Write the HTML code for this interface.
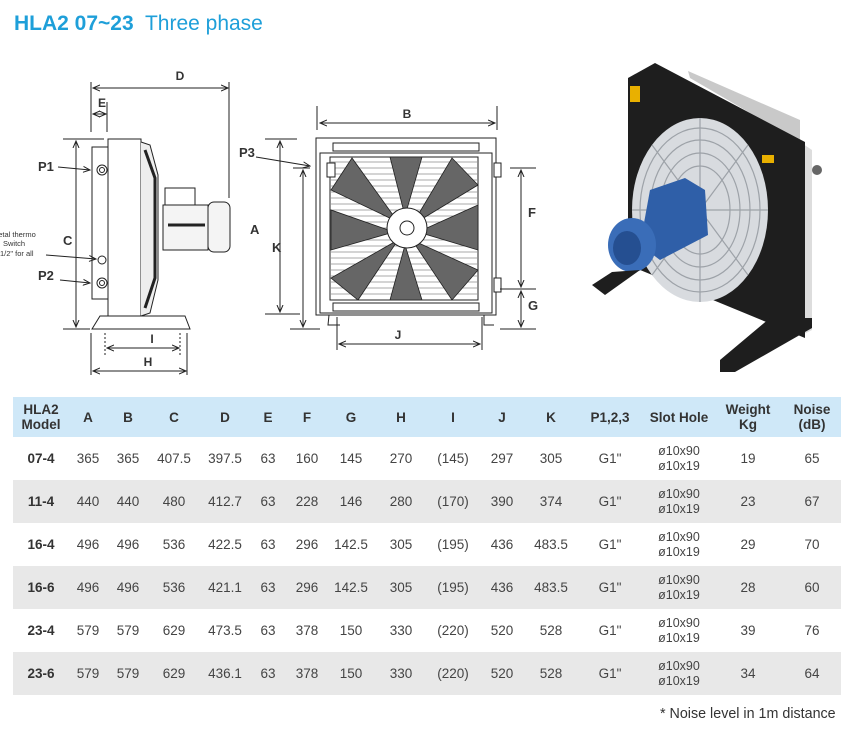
<!DOCTYPE html>
<html><head><meta charset="utf-8"><style>
body{margin:0;width:851px;height:732px;background:#fff;font-family:"Liberation Sans",sans-serif;position:relative;overflow:hidden;color:#333}
.t{position:absolute;left:14px;top:12px;font-size:21px;color:#1e9fd9;white-space:nowrap}
.t b{font-weight:bold}
table{position:absolute;left:13px;top:397px;width:828px;border-collapse:collapse;font-size:13.5px;color:#444}
td{text-align:center;padding:0;height:43px;line-height:15px}
tr.h td{background:#cfe8f8;font-weight:bold;height:40px;color:#333;font-size:13.5px}
tr.g td{background:#e8e8e8}
td.m{font-weight:bold;color:#333}
.sl{font-size:12.5px}
.note{position:absolute;left:660px;top:706px;font-size:14.3px;color:#333}
</style></head><body>
<div class="t"><b>HLA2 07~23</b>&nbsp; Three phase</div>
<svg width="851" height="395" style="position:absolute;left:0;top:0" font-family="Liberation Sans" font-weight="bold" font-size="12" fill="#333">
<defs><marker id="a" markerWidth="8" markerHeight="8" refX="7" refY="4" orient="auto-start-reverse"><path d="M0,1 L7,4 L0,7" fill="none" stroke="#222" stroke-width="1"/></marker></defs>
<g stroke="#222" fill="none" stroke-width="1">
<line x1="91" y1="82" x2="91" y2="132"/><line x1="107" y1="102" x2="107" y2="132"/><line x1="229" y1="82" x2="229" y2="198"/>
<line x1="93" y1="88" x2="228" y2="88" marker-start="url(#a)" marker-end="url(#a)"/>
<line x1="93" y1="114" x2="106" y2="114" marker-start="url(#a)" marker-end="url(#a)"/>
<line x1="63" y1="139" x2="104" y2="139"/><line x1="63" y1="329" x2="90" y2="329"/>
<line x1="76" y1="141" x2="76" y2="327" marker-start="url(#a)" marker-end="url(#a)"/>
<rect x="92" y="147" width="16" height="152" fill="#fff"/>
<rect x="108" y="139" width="33" height="177" fill="#fff"/>
<circle cx="102" cy="170" r="5"/><circle cx="102" cy="170" r="2.5"/>
<circle cx="102" cy="260" r="4"/>
<circle cx="102" cy="283" r="5"/><circle cx="102" cy="283" r="2.5"/>
<path d="M141,142 L150,145 L158,175 L158,280 L150,313 L141,316" fill="#eee"/>
<path d="M145,150 L155,178 L155,278 L145,308" stroke-width="3"/>
<rect x="163" y="205" width="45" height="45" fill="#f4f4f4"/>
<rect x="165" y="188" width="30" height="17"/>
<rect x="208" y="202" width="22" height="50" rx="6" fill="#f4f4f4"/>
<line x1="168" y1="225" x2="205" y2="225" stroke-width="3"/>
<path d="M92,329 L100,316 L185,316 L190,329 Z" fill="#fff"/>
<line x1="91" y1="333" x2="91" y2="375"/><line x1="187" y1="333" x2="187" y2="375"/>
<line x1="105" y1="333" x2="105" y2="355" stroke-dasharray="2,2"/><line x1="180" y1="333" x2="180" y2="355" stroke-dasharray="2,2"/>
<line x1="107" y1="348" x2="179" y2="348" marker-start="url(#a)" marker-end="url(#a)"/>
<line x1="93" y1="371" x2="186" y2="371" marker-start="url(#a)" marker-end="url(#a)"/>
<line x1="58" y1="167" x2="90" y2="170" marker-end="url(#a)"/>
<line x1="46" y1="255" x2="96" y2="259" marker-end="url(#a)"/>
<line x1="60" y1="280" x2="90" y2="283" marker-end="url(#a)"/>
<line x1="317" y1="106" x2="317" y2="130"/><line x1="497" y1="106" x2="497" y2="130"/>
<line x1="320" y1="123" x2="495" y2="123" marker-start="url(#a)" marker-end="url(#a)"/>
<line x1="265" y1="139" x2="297" y2="139"/><line x1="265" y1="314" x2="300" y2="314"/>
<line x1="280" y1="141" x2="280" y2="312" marker-start="url(#a)" marker-end="url(#a)"/>
<line x1="293" y1="168" x2="310" y2="168"/><line x1="290" y1="329" x2="320" y2="329"/>
<line x1="303" y1="170" x2="303" y2="327" marker-start="url(#a)" marker-end="url(#a)"/>
<rect x="316" y="138" width="180" height="177" fill="#fff"/>
<rect x="320" y="153" width="172" height="160"/>
<rect x="333" y="143" width="146" height="8"/><rect x="333" y="303" width="146" height="8"/>
<rect x="330" y="157" width="148" height="143"/>
<g stroke-width="0.6" stroke="#555">
<line x1="331" y1="162" x2="477" y2="162"/><line x1="331" y1="168" x2="477" y2="168"/><line x1="331" y1="174" x2="477" y2="174"/><line x1="331" y1="180" x2="477" y2="180"/><line x1="331" y1="186" x2="477" y2="186"/><line x1="331" y1="192" x2="477" y2="192"/><line x1="331" y1="198" x2="477" y2="198"/><line x1="331" y1="204" x2="477" y2="204"/><line x1="331" y1="210" x2="477" y2="210"/><line x1="331" y1="216" x2="477" y2="216"/><line x1="331" y1="222" x2="477" y2="222"/><line x1="331" y1="228" x2="477" y2="228"/><line x1="331" y1="234" x2="477" y2="234"/><line x1="331" y1="240" x2="477" y2="240"/><line x1="331" y1="246" x2="477" y2="246"/><line x1="331" y1="252" x2="477" y2="252"/><line x1="331" y1="258" x2="477" y2="258"/><line x1="331" y1="264" x2="477" y2="264"/><line x1="331" y1="270" x2="477" y2="270"/><line x1="331" y1="276" x2="477" y2="276"/><line x1="331" y1="282" x2="477" y2="282"/><line x1="331" y1="288" x2="477" y2="288"/><line x1="331" y1="294" x2="477" y2="294"/></g>
<g fill="#666" stroke="#222" stroke-width="0.8">
<path d="M405,216 L390,157 L422,157 Z"/><path d="M412,225 L452,158 L478,185 Z"/><path d="M418,232 L478,205 L478,250 Z"/><path d="M412,240 L478,270 L452,300 Z"/><path d="M405,245 L422,300 L390,300 Z"/><path d="M398,240 L358,300 L331,278 Z"/><path d="M394,232 L331,250 L331,210 Z"/><path d="M398,222 L331,190 L352,158 Z"/></g>
<circle cx="407" cy="228" r="20" fill="#fff"/><circle cx="407" cy="228" r="7"/>
<rect x="327" y="163" width="8" height="14" fill="#fff"/><rect x="494" y="163" width="7" height="14" fill="#fff"/><rect x="494" y="278" width="7" height="14" fill="#fff"/>
<path d="M329,315 L328,325 L340,325 M484,315 L484,325 L494,325"/>
<line x1="510" y1="168" x2="536" y2="168"/><line x1="500" y1="289" x2="536" y2="289"/><line x1="500" y1="329" x2="536" y2="329"/>
<line x1="521" y1="170" x2="521" y2="287" marker-start="url(#a)" marker-end="url(#a)"/>
<line x1="521" y1="291" x2="521" y2="327" marker-start="url(#a)" marker-end="url(#a)"/>
<line x1="337" y1="317" x2="337" y2="350"/><line x1="482" y1="317" x2="482" y2="350"/>
<line x1="339" y1="344" x2="480" y2="344" marker-start="url(#a)" marker-end="url(#a)"/>
<line x1="256" y1="157" x2="310" y2="166" marker-end="url(#a)"/>
</g>
<text x="180" y="80" text-anchor="middle">D</text><text x="98" y="107">E</text>
<text x="38" y="171" font-size="13">P1</text><text x="38" y="280" font-size="13">P2</text>
<text x="63" y="245" font-size="13">C</text>
<text x="-8" y="237" font-size="7.5" font-weight="normal">metal thermo</text><text x="3" y="246" font-size="7.5" font-weight="normal">Switch</text><text x="0" y="256" font-size="7.5" font-weight="normal">1/2" for all</text>
<text x="152" y="343" text-anchor="middle">I</text><text x="148" y="366" text-anchor="middle">H</text>
<text x="407" y="118" text-anchor="middle">B</text><text x="239" y="157" font-size="13">P3</text>
<text x="250" y="234" font-size="13">A</text><text x="272" y="252" font-size="13">K</text>
<text x="528" y="217" font-size="13">F</text><text x="528" y="310" font-size="13">G</text>
<text x="398" y="339" text-anchor="middle">J</text>
<!-- photo -->
<g stroke="none">
<path d="M800,142 L812,150 L812,330 L800,336 Z" fill="#ddd"/>
<path d="M688,71 L800,120 L800,142 L690,78 Z" fill="#c9c9c9"/>
<path d="M628,78 L655,63 L805,142 L805,338 L628,265 Z" fill="#1e1e1e"/>
<ellipse cx="700" cy="210" rx="68" ry="92" fill="#d8dbdf"/>
<g fill="none" stroke="#9da2a8" stroke-width="1.2">
<ellipse cx="700" cy="210" rx="60" ry="82"/><ellipse cx="700" cy="210" rx="50" ry="70"/><ellipse cx="700" cy="210" rx="40" ry="57"/><ellipse cx="700" cy="210" rx="30" ry="44"/>
<line x1="700" y1="118" x2="700" y2="302"/><line x1="632" y1="210" x2="768" y2="210"/><line x1="652" y1="145" x2="748" y2="275"/><line x1="748" y1="145" x2="652" y2="275"/></g>
<path d="M650,190 L685,178 L705,190 L708,235 L660,260 L640,245 Z" fill="#2f5fa8"/>
<ellipse cx="632" cy="245" rx="24" ry="27" fill="#3a6db8"/>
<ellipse cx="627" cy="248" rx="14" ry="17" fill="#254f91"/>
<path d="M592,285 L612,272 L640,270 L605,295 Z" fill="#1e1e1e"/>
<path d="M720,360 L770,318 L812,318 L812,328 L735,372 L720,372 Z" fill="#1e1e1e"/>
<rect x="630" y="86" width="10" height="16" fill="#e9b000"/>
<rect x="762" y="155" width="12" height="8" fill="#e9b000"/>
<circle cx="817" cy="170" r="5" fill="#666"/>
</g>
</svg>
<table>
<tr class="h"><td style="width:56px">HLA2<br>Model</td><td style="width:38px">A</td><td style="width:42px">B</td><td style="width:50px">C</td><td style="width:52px">D</td><td style="width:34px">E</td><td style="width:44px">F</td><td style="width:44px">G</td><td style="width:56px">H</td><td style="width:48px">I</td><td style="width:50px">J</td><td style="width:48px">K</td><td style="width:70px">P1,2,3</td><td style="width:68px">Slot Hole</td><td style="width:70px">Weight<br>Kg</td><td>Noise<br>(dB)</td></tr>
<tr><td class="m">07-4</td><td>365</td><td>365</td><td>407.5</td><td>397.5</td><td>63</td><td>160</td><td>145</td><td>270</td><td>(145)</td><td>297</td><td>305</td><td>G1"</td><td class="sl">ø10x90<br>ø10x19</td><td>19</td><td>65</td></tr>
<tr class="g"><td class="m">11-4</td><td>440</td><td>440</td><td>480</td><td>412.7</td><td>63</td><td>228</td><td>146</td><td>280</td><td>(170)</td><td>390</td><td>374</td><td>G1"</td><td class="sl">ø10x90<br>ø10x19</td><td>23</td><td>67</td></tr>
<tr><td class="m">16-4</td><td>496</td><td>496</td><td>536</td><td>422.5</td><td>63</td><td>296</td><td>142.5</td><td>305</td><td>(195)</td><td>436</td><td>483.5</td><td>G1"</td><td class="sl">ø10x90<br>ø10x19</td><td>29</td><td>70</td></tr>
<tr class="g"><td class="m">16-6</td><td>496</td><td>496</td><td>536</td><td>421.1</td><td>63</td><td>296</td><td>142.5</td><td>305</td><td>(195)</td><td>436</td><td>483.5</td><td>G1"</td><td class="sl">ø10x90<br>ø10x19</td><td>28</td><td>60</td></tr>
<tr><td class="m">23-4</td><td>579</td><td>579</td><td>629</td><td>473.5</td><td>63</td><td>378</td><td>150</td><td>330</td><td>(220)</td><td>520</td><td>528</td><td>G1"</td><td class="sl">ø10x90<br>ø10x19</td><td>39</td><td>76</td></tr>
<tr class="g"><td class="m">23-6</td><td>579</td><td>579</td><td>629</td><td>436.1</td><td>63</td><td>378</td><td>150</td><td>330</td><td>(220)</td><td>520</td><td>528</td><td>G1"</td><td class="sl">ø10x90<br>ø10x19</td><td>34</td><td>64</td></tr>
</table>
<div class="note">* Noise level in 1m distance</div>
</body></html>
